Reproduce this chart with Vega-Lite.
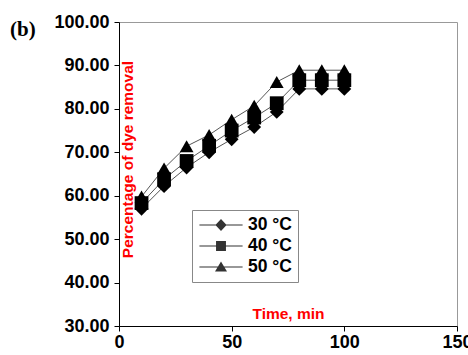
{
  "$schema": "https://vega.github.io/schema/vega-lite/v6.json",
  "width": 338,
  "height": 304,
  "autosize": {"type": "none"},
  "padding": {"left": 119, "top": 22, "right": 11, "bottom": 29},
  "background": "white",
  "title": {"text": "(b)", "anchor": "start", "frame": "group", "font": "Liberation Serif", "fontSize": 21, "fontWeight": "bold", "color": "black", "baseline": "alphabetic", "offset": 0, "dx": -109, "dy": 44},
  "config": {
    "view": {"stroke": "#999999", "strokeWidth": 1},
    "axis": {"grid": false, "domainColor": "black", "tickColor": "black", "labelColor": "black", "labelFont": "Liberation Sans", "labelFontWeight": "bold", "labelFontSize": 18, "tickSize": 5, "titleFont": "Liberation Sans", "titleFontWeight": "bold", "titleColor": "#ff0000", "titleFontSize": 15.5}
  },
  "data": {"values": [
    {"t": 10, "s": "30 °C", "v": 57.0}, {"t": 20, "s": "30 °C", "v": 62.2}, {"t": 30, "s": "30 °C", "v": 66.5}, {"t": 40, "s": "30 °C", "v": 70.0}, {"t": 50, "s": "30 °C", "v": 73.0}, {"t": 60, "s": "30 °C", "v": 75.8}, {"t": 70, "s": "30 °C", "v": 79.3}, {"t": 80, "s": "30 °C", "v": 84.6}, {"t": 90, "s": "30 °C", "v": 84.6}, {"t": 100, "s": "30 °C", "v": 84.6},
    {"t": 10, "s": "40 °C", "v": 58.3}, {"t": 20, "s": "40 °C", "v": 63.8}, {"t": 30, "s": "40 °C", "v": 68.0}, {"t": 40, "s": "40 °C", "v": 71.5}, {"t": 50, "s": "40 °C", "v": 75.0}, {"t": 60, "s": "40 °C", "v": 78.0}, {"t": 70, "s": "40 °C", "v": 81.3}, {"t": 80, "s": "40 °C", "v": 86.6}, {"t": 90, "s": "40 °C", "v": 86.6}, {"t": 100, "s": "40 °C", "v": 86.6},
    {"t": 10, "s": "50 °C", "v": 59.8}, {"t": 20, "s": "50 °C", "v": 66.3}, {"t": 30, "s": "50 °C", "v": 71.4}, {"t": 40, "s": "50 °C", "v": 74.0}, {"t": 50, "s": "50 °C", "v": 77.5}, {"t": 60, "s": "50 °C", "v": 80.7}, {"t": 70, "s": "50 °C", "v": 86.2}, {"t": 80, "s": "50 °C", "v": 88.9}, {"t": 90, "s": "50 °C", "v": 88.9}, {"t": 100, "s": "50 °C", "v": 88.9}
  ]},
  "encoding": {
    "x": {"field": "t", "type": "quantitative", "scale": {"domain": [0, 150], "nice": false},
      "axis": {"values": [0, 50, 100, 150], "title": "Time, min", "titleY": -13, "titleBaseline": "middle", "labelPadding": 2, "labelFlush": false}},
    "y": {"field": "v", "type": "quantitative", "scale": {"domain": [30, 100], "nice": false, "zero": false},
      "axis": {"values": [30, 40, 50, 60, 70, 80, 90, 100], "format": ".2f", "title": "Percentage of dye removal", "titleX": 8, "titleY": 137, "titleAngle": -90, "titleAlign": "center", "titleBaseline": "middle", "labelPadding": 5}}
  },
  "layer": [
    {"mark": {"type": "line", "color": "#555555", "strokeWidth": 1}, "encoding": {"detail": {"field": "s"}}},
    {"mark": {"type": "point", "filled": true, "opacity": 1, "size": 190, "color": "black"},
      "encoding": {"shape": {"field": "s", "type": "nominal", "scale": {"domain": ["30 °C", "40 °C", "50 °C"], "range": ["diamond", "square", "triangle-up"]}, "legend": null}}},
    {"transform": [{"filter": "datum.t < 0"}],
      "mark": {"type": "point", "filled": true, "opacity": 1, "color": "#333333"},
      "encoding": {
        "shape": {"field": "s", "type": "nominal", "scale": {"domain": ["30 °C", "40 °C", "50 °C"], "range": ["M-2.7,-0.06L2.7,-0.06L2.7,0.06L-2.7,0.06ZM0,-0.75L0.7,0L0,0.75L-0.7,0Z", "M-2.7,-0.06L2.7,-0.06L2.7,0.06L-2.7,0.06ZM-0.62,-0.62L0.62,-0.62L0.62,0.62L-0.62,0.62Z", "M-2.7,-0.06L2.7,-0.06L2.7,0.06L-2.7,0.06ZM0,-0.7L0.75,0.55L-0.75,0.55Z"]},
        "legend": {"title": null, "orient": "none", "legendX": 73, "legendY": 188, "strokeColor": "#888888", "padding": 6, "symbolSize": 256, "symbolOffset": 14, "labelOffset": 18, "rowPadding": 3, "labelFont": "Liberation Sans", "labelFontWeight": "bold", "labelFontSize": 17.5, "labelColor": "black", "symbolOpacity": 1}}}
    }
  ],
  "resolve": {"scale": {"shape": "independent"}}
}
